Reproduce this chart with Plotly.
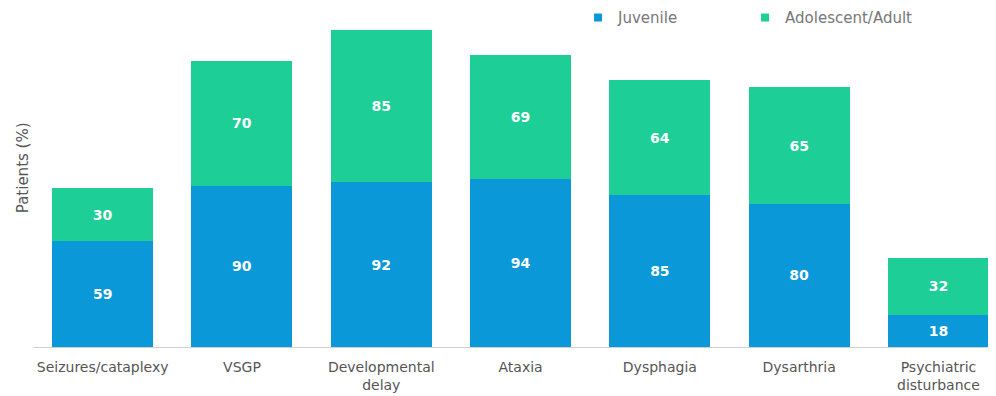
import plotly.graph_objects as go

categories = ["Seizures/cataplexy", "VSGP", "Developmental<br>delay", "Ataxia",
              "Dysphagia", "Dysarthria", "Psychiatric<br>disturbance"]
juvenile = [59, 90, 92, 94, 85, 80, 18]
adolescent_adult = [30, 70, 85, 69, 64, 65, 32]

blue = "#0A98D8"
green = "#1DCF97"
font_family = "'DejaVu Sans', sans-serif"
x_idx = list(range(len(categories)))

fig = go.Figure()
fig.add_trace(go.Bar(
    x=x_idx, y=juvenile, name="Juvenile", showlegend=False,
    marker=dict(color=blue, line=dict(width=0)), width=0.725,
    text=juvenile, textposition="inside", insidetextanchor="middle",
    texttemplate="<b>%{text}</b>",
    textfont=dict(color="white", size=14, family=font_family),
))
fig.add_trace(go.Bar(
    x=x_idx, y=adolescent_adult, name="Adolescent/Adult", showlegend=False,
    marker=dict(color=green, line=dict(width=0)), width=0.725,
    text=adolescent_adult, textposition="inside", insidetextanchor="middle",
    texttemplate="<b>%{text}</b>",
    textfont=dict(color="white", size=14, family=font_family),
))
# legend entries (small square markers)
for nm, col in [("Juvenile", blue), ("Adolescent/Adult", green)]:
    fig.add_trace(go.Scatter(x=[None], y=[None], mode="markers", name=nm,
                             marker=dict(symbol="square", size=8, color=col)))

fig.update_layout(
    barmode="stack",
    width=988, height=388,
    margin=dict(l=25, r=0, t=0, b=49, autoexpand=False),
    plot_bgcolor="white", paper_bgcolor="white",
    font=dict(family=font_family, color="#555555", size=12),
    uniformtext=dict(mode="show", minsize=10),
    legend=dict(orientation="h", x=0.566, y=1.02, xanchor="left", yanchor="top",
                font=dict(size=15, color="#777777"), itemwidth=30,
                traceorder="normal", entrywidth=122, bgcolor="rgba(0,0,0,0)"),
    xaxis=dict(tickmode="array", tickvals=x_idx,
               ticktext=categories, range=[-0.5, 6.413], showgrid=False,
               showline=True, linecolor="#d0d0d0", linewidth=1, ticks="",
               ticklabelstandoff=7,
               tickfont=dict(size=14, color="#555555"), zeroline=False,
               automargin=False),
    yaxis=dict(range=[0, 189.4], showgrid=False, showticklabels=False,
               zeroline=False, showline=False, automargin=False),
    annotations=[dict(text="Patients (%)", textangle=-90, xref="paper", yref="paper",
                      x=-0.0105, y=0.53, xanchor="center", yanchor="middle",
                      showarrow=False, font=dict(size=15, color="#555555"))],
)

fig.write_html("out.html")
